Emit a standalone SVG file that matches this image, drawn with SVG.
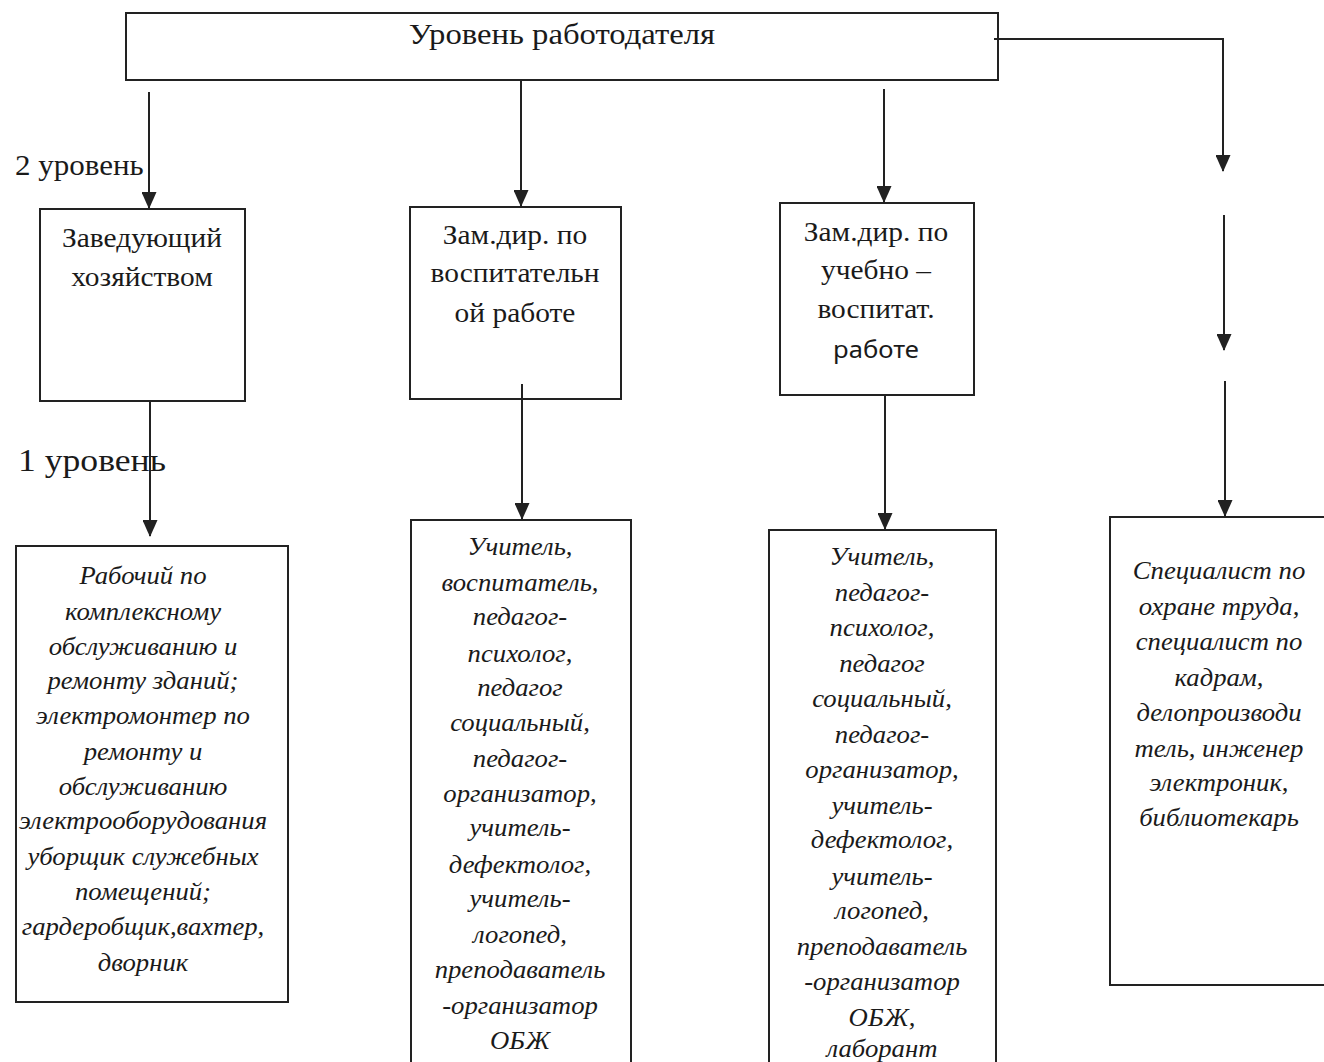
<svg xmlns="http://www.w3.org/2000/svg" width="1324" height="1062" viewBox="0 0 1324 1062">
<style>
.box{fill:#fff;stroke:#222;stroke-width:2}
.ln{fill:none;stroke:#222;stroke-width:2}
.t{font-family:"Liberation Serif","Times New Roman",serif;fill:#1a1a1a;text-anchor:middle}
.h{font-size:27px}
.i{font-size:24.5px;font-style:italic}
.s{font-family:"Noto Sans","Open Sans",sans-serif;font-size:23.5px;fill:#1a1a1a;text-anchor:middle}
.lv{font-family:"Liberation Serif","Times New Roman",serif;fill:#1a1a1a}
</style>
<defs>
<marker id="ah" markerUnits="userSpaceOnUse" markerWidth="17" markerHeight="15" viewBox="0 0 17 15" refX="16" refY="7.5" orient="auto">
<path d="M0,0 L17,7.5 L0,15 Z" fill="#222"/>
</marker>
</defs>
<rect width="1324" height="1062" fill="#fff"/>

<g id="top">
<rect class="box" x="126" y="13" width="872" height="67"/>
<g transform="translate(562,0) scale(1.09,1)"><text class="t" x="0" y="44" font-size="30">Уровень работодателя</text></g>
</g>

<g id="labels">
<g transform="translate(15,0) scale(1.07,1)"><text class="lv" x="0" y="175" font-size="29">2 уровень</text></g>
<g transform="translate(18,0) scale(1.15,1)"><text class="lv" x="0" y="471" font-size="31">1 уровень</text></g>
</g>

<g id="n-zav">
<rect class="box" x="40" y="209" width="205" height="192"/>
<g transform="translate(142,0) scale(1.09,1)">
<text class="t h" x="0" y="247">Заведующий</text>
<text class="t h" x="0" y="286">хозяйством</text>
</g>
</g>

<g id="n-zamvr">
<rect class="box" x="410" y="207" width="211" height="192"/>
<g transform="translate(515,0) scale(1.09,1)">
<text class="t h" x="0" y="244">Зам.дир. по</text>
<text class="t h" x="0" y="282">воспитательн</text>
<text class="t h" x="0" y="322">ой работе</text>
</g>
</g>

<g id="n-zamuvr">
<rect class="box" x="780" y="203" width="194" height="192"/>
<g transform="translate(876,0) scale(1.09,1)">
<text class="t h" x="0" y="241">Зам.дир. по</text>
<text class="t h" x="0" y="279">учебно –</text>
<text class="t h" x="0" y="318">воспитат.</text>
<text class="s" x="0" y="358">работе</text>
</g>
</g>

<g id="n-rab">
<rect class="box" x="16" y="546" width="272" height="456"/>
<g transform="translate(143,0) scale(1.09,1)">
<text class="t i" x="0" y="584">Рабочий по</text>
<text class="t i" x="0" y="620">комплексному</text>
<text class="t i" x="0" y="655">обслуживанию и</text>
<text class="t i" x="0" y="689">ремонту зданий;</text>
<text class="t i" x="0" y="724">электромонтер по</text>
<text class="t i" x="0" y="760">ремонту и</text>
<text class="t i" x="0" y="795">обслуживанию</text>
<text class="t i" x="0" y="829">электрооборудования</text>
<text class="t i" x="0" y="865">уборщик служебных</text>
<text class="t i" x="0" y="900">помещений;</text>
<text class="t i" x="0" y="935">гардеробщик,вахтер,</text>
<text class="t i" x="0" y="971">дворник</text>
</g>
</g>

<g id="n-uch1">
<rect class="box" x="411" y="520" width="220" height="560"/>
<g transform="translate(520,0) scale(1.09,1)">
<text class="t i" x="0" y="555">Учитель,</text>
<text class="t i" x="0" y="591">воспитатель,</text>
<text class="t i" x="0" y="625">педагог-</text>
<text class="t i" x="0" y="662">психолог,</text>
<text class="t i" x="0" y="696">педагог</text>
<text class="t i" x="0" y="731">социальный,</text>
<text class="t i" x="0" y="767">педагог-</text>
<text class="t i" x="0" y="802">организатор,</text>
<text class="t i" x="0" y="836">учитель-</text>
<text class="t i" x="0" y="873">дефектолог,</text>
<text class="t i" x="0" y="907">учитель-</text>
<text class="t i" x="0" y="943">логопед,</text>
<text class="t i" x="0" y="978">преподаватель</text>
<text class="t i" x="0" y="1014">-организатор</text>
<text class="t i" x="0" y="1049">ОБЖ</text>
</g>
</g>

<g id="n-uch2">
<rect class="box" x="769" y="530" width="227" height="560"/>
<g transform="translate(882,0) scale(1.09,1)">
<text class="t i" x="0" y="565">Учитель,</text>
<text class="t i" x="0" y="601">педагог-</text>
<text class="t i" x="0" y="636">психолог,</text>
<text class="t i" x="0" y="672">педагог</text>
<text class="t i" x="0" y="707">социальный,</text>
<text class="t i" x="0" y="743">педагог-</text>
<text class="t i" x="0" y="778">организатор,</text>
<text class="t i" x="0" y="814">учитель-</text>
<text class="t i" x="0" y="848">дефектолог,</text>
<text class="t i" x="0" y="885">учитель-</text>
<text class="t i" x="0" y="919">логопед,</text>
<text class="t i" x="0" y="955">преподаватель</text>
<text class="t i" x="0" y="990">-организатор</text>
<text class="t i" x="0" y="1026">ОБЖ,</text>
<text class="t i" x="0" y="1057">лаборант</text>
</g>
</g>

<g id="n-spec">
<rect class="box" x="1110" y="517" width="240" height="468"/>
<g transform="translate(1219,0) scale(1.09,1)">
<text class="t i" x="0" y="579">Специалист по</text>
<text class="t i" x="0" y="615">охране труда,</text>
<text class="t i" x="0" y="650">специалист по</text>
<text class="t i" x="0" y="686">кадрам,</text>
<text class="t i" x="0" y="721">делопроизводи</text>
<text class="t i" x="0" y="757">тель, инженер</text>
<text class="t i" x="0" y="791">электроник,</text>
<text class="t i" x="0" y="826">библиотекарь</text>
</g>
</g>

<g id="connectors">
<line class="ln" x1="149" y1="92" x2="149" y2="208" marker-end="url(#ah)"/>
<line class="ln" x1="521" y1="80" x2="521" y2="206" marker-end="url(#ah)"/>
<line class="ln" x1="884" y1="89" x2="884" y2="202" marker-end="url(#ah)"/>
<polyline class="ln" points="994,39 1223,39 1223,171" marker-end="url(#ah)"/>
<line class="ln" x1="1224" y1="215" x2="1224" y2="350" marker-end="url(#ah)"/>
<line class="ln" x1="1225" y1="381" x2="1225" y2="516" marker-end="url(#ah)"/>
<line class="ln" x1="150" y1="400" x2="150" y2="536" marker-end="url(#ah)"/>
<line class="ln" x1="522" y1="384" x2="522" y2="519" marker-end="url(#ah)"/>
<line class="ln" x1="885" y1="396" x2="885" y2="529" marker-end="url(#ah)"/>
</g>
</svg>
